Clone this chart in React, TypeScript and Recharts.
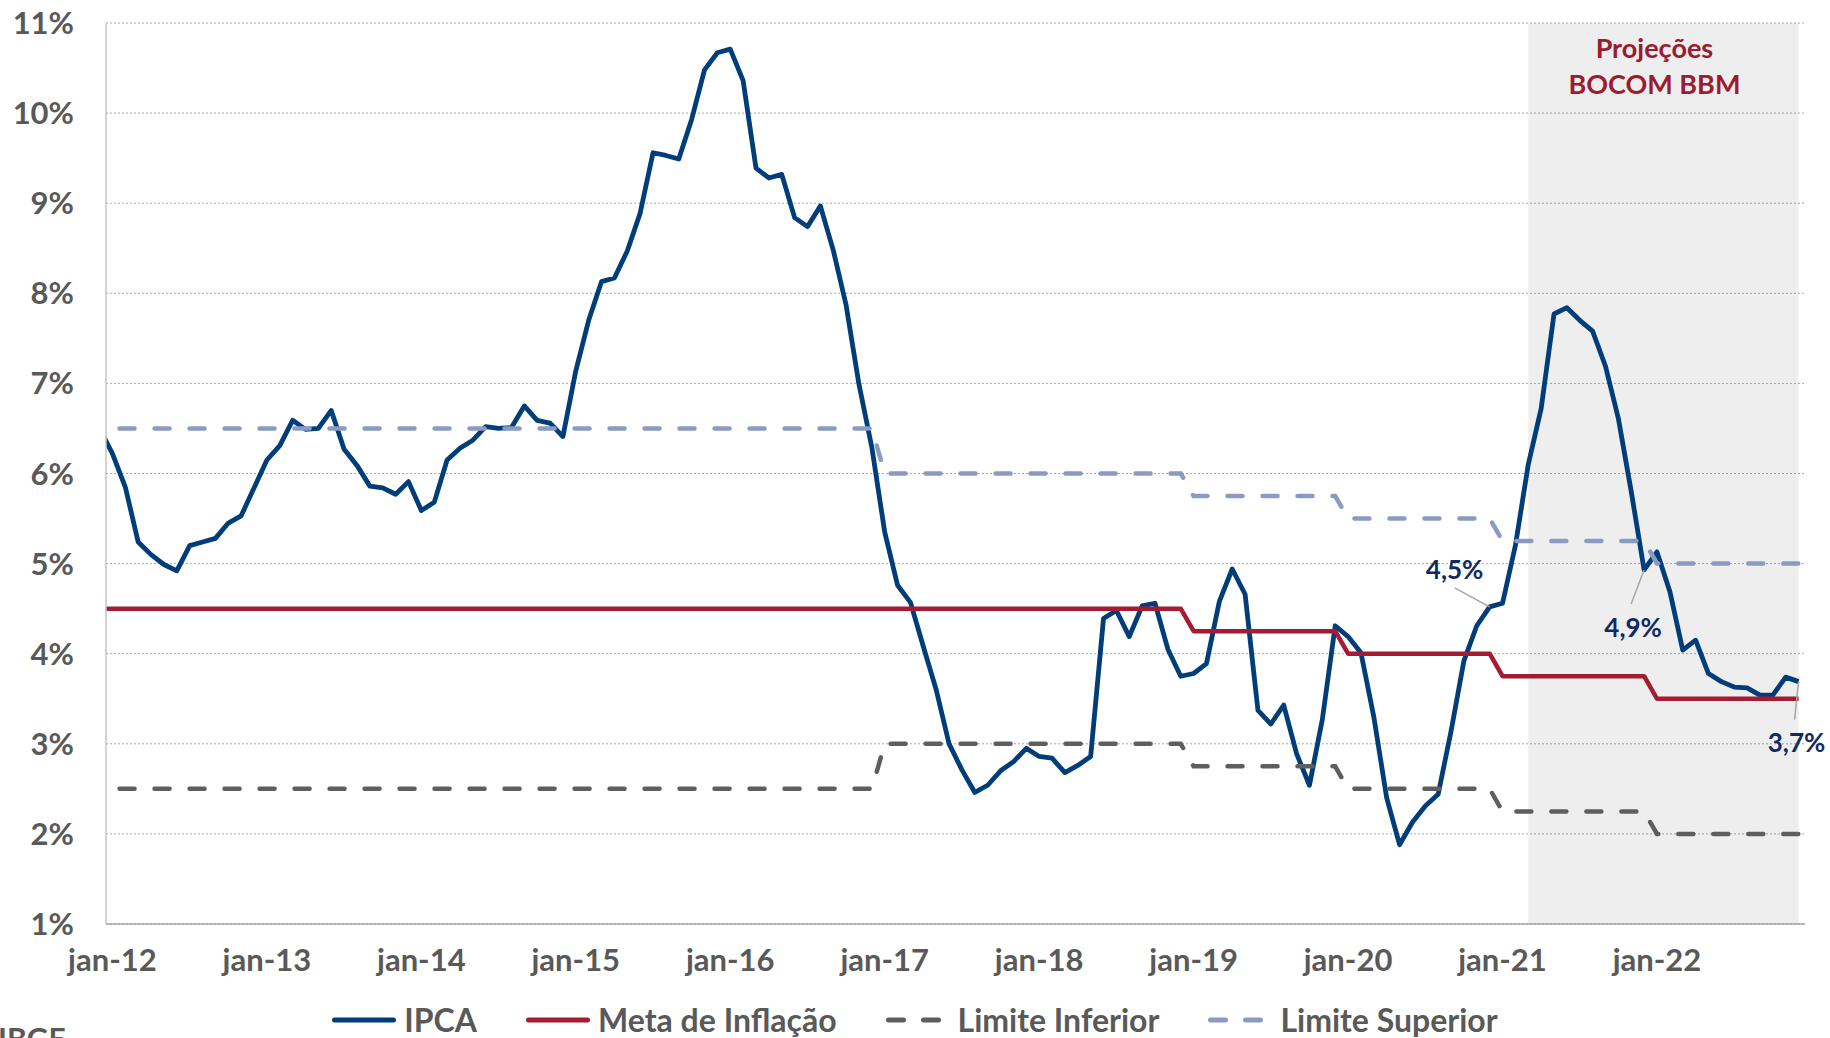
import React from "react";
import {
  CartesianGrid,
  LabelList,
  Legend,
  Line,
  LineChart,
  ReferenceArea,
  XAxis,
  YAxis,
} from "recharts";

const monthNames = ["jan", "fev", "mar", "abr", "mai", "jun", "jul", "ago", "set", "out", "nov", "dez"];
const years = [2012, 2013, 2014, 2015, 2016, 2017, 2018, 2019, 2020, 2021, 2022];

// IPCA acumulado em 12 meses (%); dez-11 fica fora do eixo, só dá a ponta cortada da linha
const ipcaDez11 = 6.5;
const ipca2012 = [6.22, 5.85, 5.24, 5.1, 4.99, 4.92, 5.2, 5.24, 5.28, 5.45, 5.53, 5.84];
const ipca2013 = [6.15, 6.31, 6.59, 6.49, 6.5, 6.7, 6.27, 6.09, 5.86, 5.84, 5.77, 5.91];
const ipca2014 = [5.59, 5.68, 6.15, 6.28, 6.37, 6.52, 6.5, 6.51, 6.75, 6.59, 6.56, 6.41];
const ipca2015 = [7.14, 7.7, 8.13, 8.17, 8.47, 8.89, 9.56, 9.53, 9.49, 9.93, 10.48, 10.67];
const ipca2016 = [10.71, 10.36, 9.39, 9.28, 9.32, 8.84, 8.74, 8.97, 8.48, 7.87, 6.99, 6.29];
const ipca2017 = [5.35, 4.76, 4.57, 4.08, 3.6, 3.0, 2.71, 2.46, 2.54, 2.7, 2.8, 2.95];
const ipca2018 = [2.86, 2.84, 2.68, 2.76, 2.86, 4.39, 4.48, 4.19, 4.53, 4.56, 4.05, 3.75];
const ipca2019 = [3.78, 3.89, 4.58, 4.94, 4.66, 3.37, 3.22, 3.43, 2.89, 2.54, 3.27, 4.31];
const ipca2020 = [4.19, 4.01, 3.3, 2.4, 1.88, 2.13, 2.31, 2.44, 3.14, 3.92, 4.31, 4.52];
const ipca2021 = [4.56, 5.2, 6.1, 6.72, 7.77, 7.84, 7.7, 7.58, 7.19, 6.61, 5.8, 4.93];
const ipca2022 = [5.13, 4.69, 4.04, 4.15, 3.78, 3.69, 3.63, 3.62, 3.54, 3.54, 3.74, 3.69];
const ipcaByYear = [ipca2012, ipca2013, ipca2014, ipca2015, ipca2016, ipca2017, ipca2018, ipca2019, ipca2020, ipca2021, ipca2022];

// meta e bandas por ano, 2011..2022
const metaByYear = [4.5, 4.5, 4.5, 4.5, 4.5, 4.5, 4.5, 4.5, 4.25, 4.0, 3.75, 3.5];
const limInfByYear = [2.5, 2.5, 2.5, 2.5, 2.5, 2.5, 3.0, 3.0, 2.75, 2.5, 2.25, 2.0];
const limSupByYear = [6.5, 6.5, 6.5, 6.5, 6.5, 6.5, 6.0, 6.0, 5.75, 5.5, 5.25, 5.0];

const xTickLabels = ["jan-12", "jan-13", "jan-14", "jan-15", "jan-16", "jan-17", "jan-18", "jan-19", "jan-20", "jan-21", "jan-22"];
const yTicks = [1, 2, 3, 4, 5, 6, 7, 8, 9, 10, 11];
const projectionStart = "mar-21";
const projectionEnd = "dez-22";
const labelledMonths = ["dez-20", "dez-21", "dez-22"];

type Row = { i: number; month: string; ipca: number; meta: number; inf: number; sup: number };

const rows: Row[] = [
  { i: -1, month: "dez-11", ipca: ipcaDez11, meta: metaByYear[0], inf: limInfByYear[0], sup: limSupByYear[0] },
];
years.forEach((yr, k) => {
  ipcaByYear[k].forEach((v, m) => {
    rows.push({
      i: k * 12 + m,
      month: `${monthNames[m]}-${String(yr).slice(2)}`,
      ipca: v,
      meta: metaByYear[k + 1],
      inf: limInfByYear[k + 1],
      sup: limSupByYear[k + 1],
    });
  });
});

const idxOf = (m: string) => rows.find((r) => r.month === m)!.i;
const xTicks = xTickLabels.map(idxOf);

const FONT = "Lato, 'Open Sans', sans-serif";
const GREY_TEXT = "#595959";
const C_IPCA = "#003D79";
const C_META = "#A21C34";
const C_INF = "#5E5E5E";
const C_SUP = "#8A9AC2";
const C_LABEL = "#0F2A66";

// where each data label sits relative to its point
const labelPlacement: Record<string, { tx: number; ty: number; lx: number; ly: number }> = {
  "dez-20": { tx: -35, ty: -28, lx: -35, ly: -19 },
  "dez-21": { tx: -11, ty: 67, lx: -13, ly: 34 },
  "dez-22": { tx: -2, ty: 70, lx: -4, ly: 38 },
};

const fmtPct = (v: number) => `${v.toFixed(1).replace(".", ",")}%`;

function PointLabel(props: any) {
  const row = rows[props.index];
  if (!row || !labelledMonths.includes(row.month)) return null;
  const px = props.x ?? props.viewBox?.x;
  const py = props.y ?? props.viewBox?.y;
  const p = labelPlacement[row.month];
  return (
    <g>
      <line x1={px} y1={py} x2={px + p.lx} y2={py + p.ly} stroke="#A6A6A6" strokeWidth={1.5} />
      <text
        x={px + p.tx}
        y={py + p.ty}
        textAnchor="middle"
        fontFamily={FONT}
        fontWeight={700}
        fontSize={26}
        fill={C_LABEL}
      >
        {fmtPct(row.ipca)}
      </text>
    </g>
  );
}

function ProjectionLabel(props: any) {
  const vb = props.viewBox;
  if (!vb) return null;
  const cx = vb.x + vb.width / 2 - 9;
  return (
    <g fontFamily={FONT} fontWeight={700} fontSize={27} fill="#9B1B30" textAnchor="middle">
      <text x={cx} y={vb.y + 35}>Projeções</text>
      <text x={cx} y={vb.y + 71}>BOCOM BBM</text>
    </g>
  );
}

const legendItems = [
  { name: "IPCA", color: C_IPCA, dash: undefined as string | undefined },
  { name: "Meta de Inflação", color: C_META, dash: undefined },
  { name: "Limite Inferior", color: C_INF, dash: "15 20" },
  { name: "Limite Superior", color: C_SUP, dash: "15 20" },
];

function LegendRow() {
  return (
    <div style={{ position: "relative", width: 1830, height: 31 }}>
      <div style={{ display: "flex", justifyContent: "center", alignItems: "center", gap: 49, height: 31 }}>
        {legendItems.map((it) => (
          <div key={it.name} style={{ display: "flex", alignItems: "center" }}>
            <svg width={64} height={10} style={{ marginRight: 8, display: "block" }}>
              <line
                x1={2.5}
                x2={61.5}
                y1={5}
                y2={5}
                stroke={it.color}
                strokeWidth={5}
                strokeLinecap="round"
                strokeDasharray={it.dash}
              />
            </svg>
            <span
              style={{
                fontFamily: FONT,
                fontWeight: 700,
                fontSize: 32,
                lineHeight: "31px",
                color: GREY_TEXT,
                whiteSpace: "nowrap",
              }}
            >
              {it.name}
            </span>
          </div>
        ))}
      </div>
      <div
        style={{
          position: "absolute",
          left: -2,
          top: 19,
          fontFamily: FONT,
          fontWeight: 700,
          fontSize: 30,
          lineHeight: "30px",
          color: GREY_TEXT,
        }}
      >
        IBGE
      </div>
    </div>
  );
}

const tickStyle = { fontSize: 31, fontWeight: 700, fill: GREY_TEXT, fontFamily: FONT };

export default function App() {
  return (
    <div style={{ position: "absolute", left: 0, top: 0, width: 1830, height: 1038, overflow: "hidden", background: "#fff" }}>
      <LineChart width={1830} height={1038} data={rows} margin={{ top: 23, right: 25, bottom: 54, left: 0 }}>
        <CartesianGrid vertical={false} stroke="#A9A9A9" strokeDasharray="2 2" />
        <XAxis
          dataKey="i"
          type="number"
          domain={[-0.5, 131.5]}
          allowDataOverflow
          ticks={xTicks}
          interval={0}
          tickFormatter={(v: number) => xTickLabels[xTicks.indexOf(v)] ?? ""}
          height={60}
          tickLine={false}
          tickSize={0}
          tickMargin={25}
          axisLine={{ stroke: "#A6A6A6", strokeWidth: 1.5 }}
          tick={tickStyle}
        />
        <YAxis
          type="number"
          domain={[1, 11]}
          ticks={yTicks}
          interval={0}
          allowDataOverflow
          width={106}
          tickLine={false}
          tickSize={0}
          tickMargin={32}
          axisLine={{ stroke: "#C4C4C4", strokeWidth: 1.5 }}
          tickFormatter={(v: number) => `${v}%`}
          tick={tickStyle}
        />
        <ReferenceArea
          x1={idxOf(projectionStart)}
          x2={idxOf(projectionEnd)}
          y1={1}
          y2={11}
          fill="#000"
          fillOpacity={0.068}
          stroke="none"
          label={<ProjectionLabel />}
        />
        <Line
          dataKey="ipca"
          name="IPCA"
          type="linear"
          stroke={C_IPCA}
          strokeWidth={4.8}
          strokeLinejoin="round"
          dot={false}
          isAnimationActive={false}
        >
          <LabelList dataKey="ipca" content={<PointLabel />} />
        </Line>
        <Line
          dataKey="meta"
          name="Meta de Inflação"
          type="linear"
          stroke={C_META}
          strokeWidth={4.5}
          strokeLinejoin="round"
          dot={false}
          isAnimationActive={false}
        />
        <Line
          dataKey="inf"
          name="Limite Inferior"
          type="linear"
          stroke={C_INF}
          strokeWidth={4.5}
          strokeDasharray="15 20"
          strokeDashoffset={15}
          strokeLinecap="round"
          dot={false}
          isAnimationActive={false}
        />
        <Line
          dataKey="sup"
          name="Limite Superior"
          type="linear"
          stroke={C_SUP}
          strokeWidth={4.5}
          strokeDasharray="15 20"
          strokeDashoffset={15}
          strokeLinecap="round"
          dot={false}
          isAnimationActive={false}
        />
        <Legend
          layout="horizontal"
          verticalAlign="middle"
          align="center"
          wrapperStyle={{ top: 1004, left: 0, width: 1830, height: 31 }}
          content={() => <LegendRow />}
        />
      </LineChart>
    </div>
  );
}
